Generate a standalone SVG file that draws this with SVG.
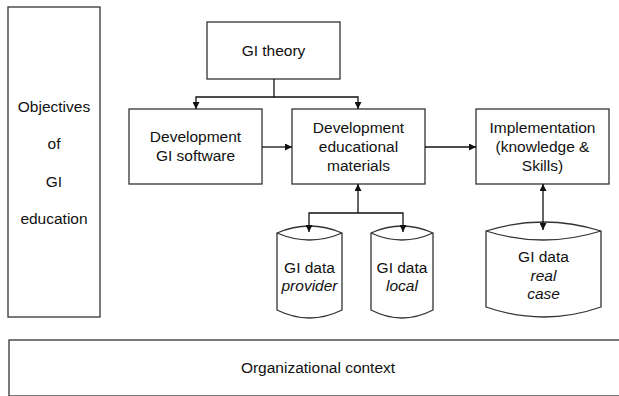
<svg xmlns="http://www.w3.org/2000/svg" width="619" height="396" viewBox="0 0 619 396">
<style>
  .box { fill: #ffffff; stroke: #333333; stroke-width: 1.3; }
  .lbl { font-family: "Liberation Sans", Arial, sans-serif; font-size: 15.5px; fill: #111111; text-anchor: middle; }
  .it { font-style: italic; }
  .con { fill: none; stroke: #111111; stroke-width: 1.3; }
</style>
<defs>
  <marker id="arr" viewBox="0 0 10 10" refX="10" refY="5" markerWidth="7" markerHeight="7" markerUnits="userSpaceOnUse" orient="auto-start-reverse">
    <path d="M0,0 L10,5 L0,10 Z" fill="#111111"/>
  </marker>
</defs>
<rect width="619" height="396" fill="#ffffff"/>

<g id="objectives">
  <rect class="box" x="8" y="7" width="92" height="310"/>
  <text class="lbl" x="54" y="112">Objectives</text>
  <text class="lbl" x="54" y="149">of</text>
  <text class="lbl" x="54" y="187">GI</text>
  <text class="lbl" x="54" y="224">education</text>
</g>

<g id="gi-theory">
  <rect class="box" x="207" y="22" width="133" height="57"/>
  <text class="lbl" x="273.5" y="56">GI theory</text>
</g>

<g id="dev-software">
  <rect class="box" x="129" y="109" width="133" height="75"/>
  <text class="lbl" x="195.5" y="142">Development</text>
  <text class="lbl" x="195.5" y="161">GI software</text>
</g>

<g id="dev-materials">
  <rect class="box" x="292" y="109" width="133" height="75"/>
  <text class="lbl" x="358.5" y="133">Development</text>
  <text class="lbl" x="358.5" y="152">educational</text>
  <text class="lbl" x="358.5" y="171">materials</text>
</g>

<g id="implementation">
  <rect class="box" x="476" y="109" width="133" height="75"/>
  <text class="lbl" x="542.5" y="133">Implementation</text>
  <text class="lbl" x="542.5" y="152">(knowledge &amp;</text>
  <text class="lbl" x="542.5" y="171">Skills)</text>
</g>

<g id="data-provider">
  <path class="box" d="M277,233 Q309.5,219 342,233 L342,310 Q309.5,326 277,310 Z"/>
  <path class="box" d="M277,233 Q309.5,247 342,233" fill="none"/>
  <text class="lbl" x="309.5" y="273">GI data</text>
  <text class="lbl it" x="309.5" y="291">provider</text>
</g>

<g id="data-local">
  <path class="box" d="M371,233 Q402,219 433,233 L433,310 Q402,326 371,310 Z"/>
  <path class="box" d="M371,233 Q402,247 433,233" fill="none"/>
  <text class="lbl" x="402" y="273">GI data</text>
  <text class="lbl it" x="402" y="291">local</text>
</g>

<g id="data-real-case">
  <path class="box" d="M486,231 Q543.5,213 601,231 L601,307 Q543.5,327 486,307 Z"/>
  <path class="box" d="M486,231 Q543.5,249 601,231" fill="none"/>
  <text class="lbl" x="543.5" y="262">GI data</text>
  <text class="lbl it" x="543.5" y="281">real</text>
  <text class="lbl it" x="543.5" y="299">case</text>
</g>

<g id="org-context">
  <rect class="box" x="9" y="340" width="620" height="56"/>
  <text class="lbl" x="318" y="373">Organizational context</text>
</g>

<g id="connectors">
  <path class="con" d="M274,79 V97 H196 V109" marker-end="url(#arr)"/>
  <path class="con" d="M274,97 H358 V109" marker-end="url(#arr)"/>
  <path class="con" d="M262,147 H292" marker-end="url(#arr)"/>
  <path class="con" d="M425,147 H476" marker-end="url(#arr)"/>
  <path class="con" d="M358,213 V184" marker-end="url(#arr)"/>
  <path class="con" d="M358,213 H309 V232" marker-end="url(#arr)"/>
  <path class="con" d="M358,213 H403 V232" marker-end="url(#arr)"/>
  <path class="con" d="M543,184 V230" marker-start="url(#arr)" marker-end="url(#arr)"/>
</g>
</svg>
